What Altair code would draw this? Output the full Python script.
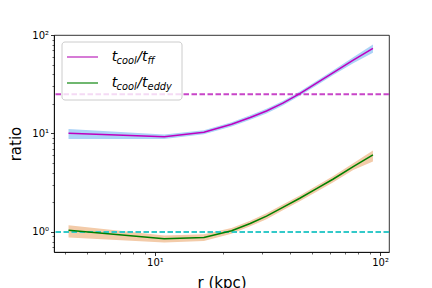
import altair as alt
import pandas as pd

# ---- data ----
r_kpc = [4.13, 11.0, 16.5, 21.9, 26.5, 31.3, 37.0, 44.0, 52.0, 62.0, 76.0, 93.0]
ff_ratio = [10.05, 9.29, 10.3, 12.4, 14.55, 16.9, 20.3, 25.4, 32.2, 41.5, 55.6, 73.3]
ff_lo = [8.8, 8.8, 9.8, 11.8, 13.8, 16.0, 19.2, 24.1, 30.5, 39.2, 51.8, 66.0]
ff_hi = [11.1, 9.75, 10.8, 13.0, 15.3, 17.8, 21.4, 26.7, 33.9, 43.9, 59.5, 80.0]
eddy_ratio = [1.04, 0.855, 0.88, 1.03, 1.22, 1.45, 1.78, 2.2, 2.74, 3.45, 4.6, 6.05]
eddy_lo = [0.88, 0.78, 0.81, 0.96, 1.14, 1.35, 1.66, 2.05, 2.55, 3.2, 4.25, 5.2]
eddy_hi = [1.17, 0.92, 0.95, 1.10, 1.30, 1.55, 1.90, 2.35, 2.93, 3.7, 4.98, 6.7]

series_names = ["ff", "eddy"]
line_colors = ["#bf00bf", "#008000"]
band_colors = ["#acd3f7", "#f3cba9"]
handle_colors = ["#c94fc9", "#3f9f3f"]
hline_values = [25.0, 1.0]
hline_colors = ["#c845c8", "#33c9c9"]
legend_sub1 = ["cool", "cool"]
legend_sub2 = ["ff", "eddy"]

x_major = [10, 100]
x_minor = [4, 5, 6, 7, 8, 9, 20, 30, 40, 50, 60, 70, 80, 90]
y_major = [1, 10, 100]
y_minor = [0.7, 0.8, 0.9, 2, 3, 4, 5, 6, 7, 8, 9, 20, 30, 40, 50, 60, 70, 80, 90]

rows = []
for name, vals, lo, hi in [("ff", ff_ratio, ff_lo, ff_hi), ("eddy", eddy_ratio, eddy_lo, eddy_hi)]:
    for r, v, a, b in zip(r_kpc, vals, lo, hi):
        rows.append({"r": r, "value": v, "lo": a, "hi": b, "series": name})
df = pd.DataFrame(rows)
hdf = pd.DataFrame({"y": hline_values, "series": series_names})

W, H = 335, 217
FONT = "DejaVu Sans"

major_test_x = "datum.value == 10 || datum.value == 100"
major_test_y = "datum.value == 1 || datum.value == 10 || datum.value == 100"

x_scale = alt.Scale(type="log", domain=[3.56, 109.6], nice=False)
y_scale = alt.Scale(type="log", domain=[0.626, 100], nice=False)

x_axis = alt.Axis(
    values=x_major + x_minor,
    labelExpr="datum.value == 10 ? '10\u00b9' : datum.value == 100 ? '10\u00b2' : ''",
    tickSize={"condition": {"test": major_test_x, "value": 3.5}, "value": 2},
    tickWidth={"condition": {"test": major_test_x, "value": 0.8}, "value": 0.6},
    tickColor="black", domainColor="black", domainWidth=0.8,
    labelColor="black", labelFont=FONT, labelFontSize=10, labelPadding=2,
    labelOverlap=False, labelFlush=False, grid=False,
    title="r (kpc)", titleFont=FONT, titleFontSize=15, titleFontWeight="normal",
    titleColor="black", titlePadding=8,
)
y_axis = alt.Axis(
    values=y_major + y_minor,
    labelExpr="datum.value == 1 ? '10\u2070' : datum.value == 10 ? '10\u00b9' : datum.value == 100 ? '10\u00b2' : ''",
    tickSize={"condition": {"test": major_test_y, "value": 3.5}, "value": 2},
    tickWidth={"condition": {"test": major_test_y, "value": 0.8}, "value": 0.6},
    tickColor="black", domainColor="black", domainWidth=0.8,
    labelColor="black", labelFont=FONT, labelFontSize=10, labelPadding=2,
    labelOverlap=False, labelFlush=False, grid=False,
    title="ratio", titleFont=FONT, titleFontSize=15, titleFontWeight="normal",
    titleColor="black", titlePadding=8,
)

base = alt.Chart(df)

bands = base.mark_area(opacity=1).encode(
    x=alt.X("r:Q", scale=x_scale, axis=x_axis),
    y=alt.Y("lo:Q", scale=y_scale, axis=y_axis),
    y2="hi:Q",
    color=alt.Color("series:N", scale=alt.Scale(domain=series_names, range=band_colors), legend=None),
)

hlines = alt.Chart(hdf).mark_rule(strokeDash=[5.5, 2.5], strokeWidth=2).encode(
    y=alt.Y("y:Q", scale=y_scale),
    color=alt.Color("series:N", scale=alt.Scale(domain=series_names, range=hline_colors), legend=None),
)

lines = base.mark_line(strokeWidth=1.5).encode(
    x=alt.X("r:Q", scale=x_scale),
    y=alt.Y("value:Q", scale=y_scale),
    color=alt.Color("series:N", scale=alt.Scale(domain=series_names, range=line_colors), legend=None),
)

one = alt.Data(values=[{"k": 0}])

legend_box = alt.Chart(one).mark_rect(
    fill="white", fillOpacity=0.8, stroke="#cccccc", strokeWidth=1, cornerRadius=3
).encode(x=alt.value(8), x2=alt.value(128), y=alt.value(7), y2=alt.value(65))

legend_layers = [legend_box]
for i in range(2):
    ly = 22 + 26 * i
    base_y = 25.7 + 26 * i
    legend_layers.append(
        alt.Chart(one).mark_rule(strokeWidth=1.5, color=handle_colors[i]).encode(
            x=alt.value(13), x2=alt.value(44), y=alt.value(ly)
        )
    )
    pieces = [
        ("t", 57.7, base_y, 14),
        (legend_sub1[i], 62.6, base_y + 2.8, 9.8),
        ("/t", 83.3, base_y, 14),
        (legend_sub2[i], 93.6, base_y + 2.8, 9.8),
    ]
    for txt, px, py, fs in pieces:
        legend_layers.append(
            alt.Chart(one).mark_text(
                text=txt, align="left", baseline="alphabetic", font=FONT,
                fontStyle="italic", fontSize=fs, color="black"
            ).encode(x=alt.value(px), y=alt.value(py))
        )

chart = alt.layer(bands, hlines, lines, *legend_layers).resolve_scale(color="independent").properties(
    width=W, height=H,
    autosize=alt.AutoSizeParams(type="none"),
    padding={"left": 46, "top": 27, "right": 35, "bottom": 36},
).configure_view(stroke="black", strokeWidth=0.8)

chart.save("out.html", embed_options={"renderer": "svg", "actions": False})
